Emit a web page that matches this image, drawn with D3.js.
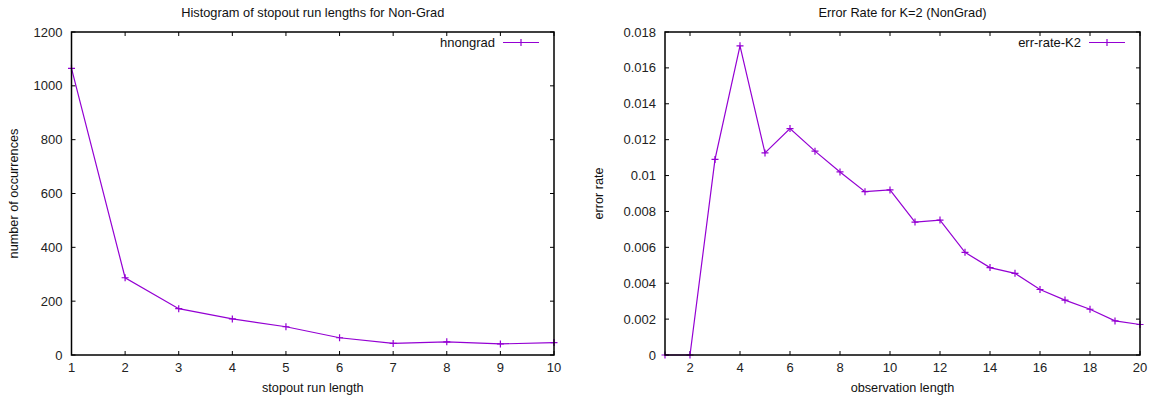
<!DOCTYPE html>
<html><head><meta charset="utf-8">
<script src="https://cdn.jsdelivr.net/npm/d3@7"></script>
<style>body{margin:0;background:#fff;} svg{display:block;font-family:"Liberation Sans",Arial,sans-serif;}</style>
</head><body>
<svg id="c" width="1151" height="398"></svg>
<script>
const histX = [1,2,3,4,5,6,7,8,9,10];
const histY = [1065,287,172,134,105,64,43,49,41,46];
const histYTicks = [0,200,400,600,800,1000,1200];
const histXTicks = [1,2,3,4,5,6,7,8,9,10];

const errX = [1,2,3,4,5,6,7,8,9,10,11,12,13,14,15,16,17,18,19,20];
const errY = [0,0,0.0109,0.01723,0.01126,0.01262,0.01136,0.0102,0.0091,0.0092,0.00741,0.00752,0.00572,0.00487,0.00455,0.00365,0.00306,0.00255,0.0019,0.0017];
const errYTicks = [0,0.002,0.004,0.006,0.008,0.01,0.012,0.014,0.016,0.018];
const errXTicks = [2,4,6,8,10,12,14,16,18,20];

const svg = d3.select("#c");
const color = "#9400d3";

function panel(o){
  const g = svg.append("g");
  const x = d3.scaleLinear().domain(o.xd).range([o.l, o.r]);
  const y = d3.scaleLinear().domain(o.yd).range([o.b, o.t]);
  const tl = 4;
  o.xt.forEach(v=>{
    g.append("line").attr("x1",x(v)).attr("x2",x(v)).attr("y1",o.b).attr("y2",o.b-tl).attr("stroke","#000");
    g.append("line").attr("x1",x(v)).attr("x2",x(v)).attr("y1",o.t).attr("y2",o.t+tl).attr("stroke","#000");
    g.append("text").attr("x",x(v)).attr("y",o.b+17).attr("text-anchor","middle").attr("font-size",13).attr("fill","#222").text(o.xf(v));
  });
  o.yt.forEach(v=>{
    g.append("line").attr("x1",o.l).attr("x2",o.l+tl).attr("y1",y(v)).attr("y2",y(v)).attr("stroke","#000");
    g.append("line").attr("x1",o.r).attr("x2",o.r-tl).attr("y1",y(v)).attr("y2",y(v)).attr("stroke","#000");
    g.append("text").attr("x",o.l-9).attr("y",y(v)+4.5).attr("text-anchor","end").attr("font-size",13).attr("fill","#222").text(o.yf(v));
  });
  const data = o.xs.map((d,i)=>[d,o.ys[i]]);
  g.append("path").datum(data).attr("fill","none").attr("stroke",color).attr("stroke-width",1.2)
    .attr("d", d3.line().x(d=>x(d[0])).y(d=>y(d[1])));
  data.forEach(d=>{
    const px=x(d[0]), py=y(d[1]);
    g.append("path").attr("d",`M${px-3.5},${py}H${px+3.5}M${px},${py-3.5}V${py+3.5}`).attr("stroke",color).attr("stroke-width",1.2);
  });
  g.append("rect").attr("x",o.l).attr("y",o.t).attr("width",o.r-o.l).attr("height",o.b-o.t)
    .attr("fill","none").attr("stroke","#000").attr("stroke-width",1.5);
  const cx=(o.l+o.r)/2;
  g.append("text").attr("x",cx).attr("y",17).attr("text-anchor","middle").attr("font-size",12.8).attr("fill","#111").text(o.title);
  g.append("text").attr("x",cx).attr("y",392).attr("text-anchor","middle").attr("font-size",12.7).attr("fill","#111").text(o.xl);
  g.append("text").attr("transform",`translate(${o.yx},${(o.t+o.b)/2}) rotate(-90)`).attr("text-anchor","middle").attr("font-size",12.7).attr("fill","#111").text(o.ylab);
  g.append("text").attr("x",o.legX).attr("y",47).attr("text-anchor","end").attr("font-size",13).attr("fill","#111").text(o.leg);
  const lx1=o.legX+8, lx2=o.legX+44, ly=42.5;
  g.append("line").attr("x1",lx1).attr("x2",lx2).attr("y1",ly).attr("y2",ly).attr("stroke",color).attr("stroke-width",1.2);
  const m=(lx1+lx2)/2;
  g.append("path").attr("d",`M${m-3.5},${ly}H${m+3.5}M${m},${ly-3.5}V${ly+3.5}`).attr("stroke",color).attr("stroke-width",1.2);
}

panel({l:71.5,r:554,t:32,b:355,xd:[1,10],yd:[0,1200],xt:histXTicks,yt:histYTicks,
  xf:d=>d, yf:d=>d, xs:histX, ys:histY, title:"Histogram of stopout run lengths for Non-Grad",
  xl:"stopout run length", ylab:"number of occurrences", yx:18, leg:"hnongrad", legX:495});
panel({l:665,r:1140,t:32,b:355,xd:[1,20],yd:[0,0.018],xt:errXTicks,yt:errYTicks,
  xf:d=>d, yf:d=>String(+d.toFixed(3)), xs:errX, ys:errY, title:"Error Rate for K=2 (NonGrad)",
  xl:"observation length", ylab:"error rate", yx:603, leg:"err-rate-K2", legX:1081});
</script>
</body></html>
